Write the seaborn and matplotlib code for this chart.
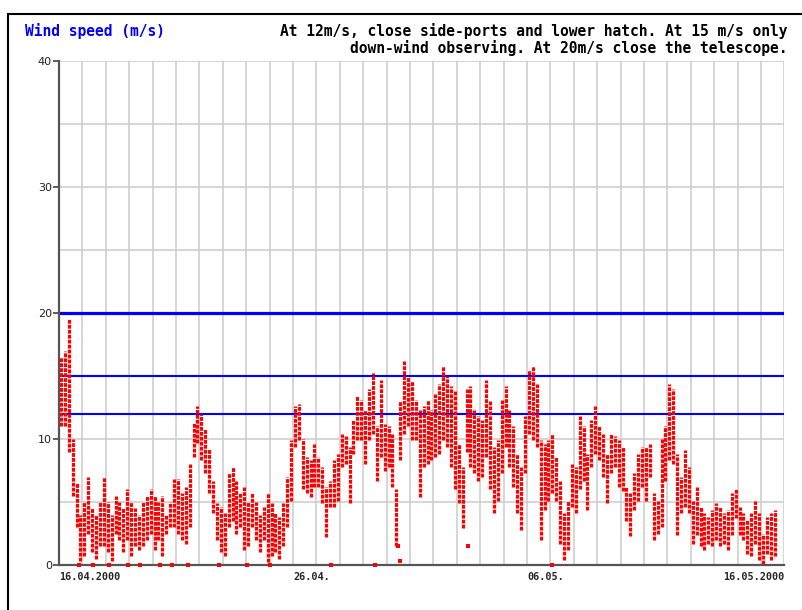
import numpy as np
import pandas as pd
import seaborn as sns
import matplotlib.pyplot as plt
import matplotlib.dates as mdates
from matplotlib.patches import Rectangle

# wind speed readings, 4-hour bins starting 16.04.2000 00:00 (low / high of each bin, m/s)
speed_lo = [
    11, 11, 9, 5.5, 3, 0.3,
    0.7, 2.5, 1, 0.5, 1.5, 1.5,
    1, 0.3, 2.5, 2, 1, 2,
    0.7, 1.5, 1.2, 1.5, 2, 2.5,
    1.2, 2, 0.7, 2.5, 3, 3,
    2.5, 2, 1.7, 3, 8.6, 9.7,
    8.3, 7.3, 5.7, 4.1, 2, 1,
    0.7, 3, 3.5, 2.5, 3, 1.2,
    1.5, 3, 2, 1, 2, 0.2,
    0.7, 1, 0.5, 1.5, 3, 5.1,
    9.4, 9.9, 6, 5.7, 5.4, 6.2,
    6.2, 4.9, 2.2, 4.6, 4.6, 5.1,
    7.8, 8, 4.9, 8.8, 9.9, 9.9,
    8, 9.9, 10.4, 6.7, 8.6, 7.5,
    7.8, 6.2, 1.5, 8.3, 10.4, 11,
    9.9, 9.9, 5.4, 7.8, 8, 8.3,
    8.6, 8.8, 9.9, 9.4, 7.8, 6,
    4.9, 2.9, 9, 7.8, 7.3, 6.7,
    7, 8.6, 6, 4.1, 5.1, 7.3,
    9.4, 7.8, 6.2, 4.1, 2.8, 7.3,
    10.4, 9.9, 9.4, 2, 4.4, 5.1,
    5.7, 5.1, 1.7, 0.4, 1.2, 4.6,
    4.1, 6, 6.7, 4.4, 7.8, 8.8,
    8.3, 7, 4.9, 7.3, 7.8, 6.2,
    5.9, 3.5, 2.3, 4.4, 5.1, 6.2,
    5.1, 7, 2, 2.5, 3, 6.7,
    8.3, 8, 2.4, 4.1, 4.6, 4.1,
    1.7, 2.4, 1.5, 1.2, 1.7, 1.5,
    2, 1.5, 1.7, 1.2, 2.4, 3.7,
    2.4, 2, 0.9, 0.7, 1.7, 0.4,
    0.1, 0.9, 0.4, 0.7,
]
speed_hi = [
    16.5, 17, 19.5, 10, 6.5, 4,
    5, 7, 4.5, 4, 5, 7,
    5, 4, 5.5, 5, 4.5, 6,
    5, 4.5, 4, 5, 5.5, 6,
    5.5, 5, 5.5, 4, 5, 6.8,
    6.8, 5.7, 6.2, 8, 11.3, 12.6,
    12, 10.8, 9.2, 6.7, 4.9, 4.6,
    4.1, 7.3, 7.8, 6.7, 5.7, 6.2,
    5, 5.7, 5, 4, 4.6, 5.7,
    4.9, 4.1, 3.8, 4.9, 7, 9.9,
    12.6, 12.8, 10, 8.6, 8.3, 9.6,
    8.6, 7.8, 6.2, 6.7, 8.3, 8.8,
    10.4, 10.2, 9.4, 11.5, 13.4, 13.1,
    12.3, 14, 15.2, 11, 14.7, 11.2,
    11, 10.4, 6, 13, 16.2, 14.9,
    14.6, 13.1, 12.3, 12.6, 13.1, 12.3,
    13.6, 14.4, 15.8, 15, 14.2, 13.9,
    9.6, 7.8, 14, 14.2, 12.3, 11.8,
    11.5, 14.7, 13, 9.4, 9.9, 13.1,
    14.2, 12.3, 11, 8.8, 7.8, 11.8,
    15.5, 15.8, 14.4, 9.9, 9.6, 9.9,
    10.4, 8.6, 6.7, 4.1, 5.1, 8,
    7.8, 11.8, 11, 8.8, 11.5, 12.6,
    11, 10.4, 8.8, 10.4, 10.2, 9.9,
    9.4, 6.2, 5.7, 7.3, 8.8, 9.4,
    9.4, 9.6, 5.7, 5.1, 10, 11,
    14.4, 14, 8.8, 7, 9.1, 7.8,
    5.1, 6.2, 4.6, 4.1, 3.8, 4.4,
    4.9, 4.6, 4.1, 4.4, 5.7, 6,
    4.6, 4.1, 3.6, 4.1, 5.1, 4.1,
    2.5, 3.8, 4.1, 4.4,
]

# isolated readings outside the main cloud
odd_times = ["2000-04-16 20:00", "2000-04-17 11:00", "2000-04-18 03:00", "2000-04-18 23:00",
             "2000-04-19 11:00", "2000-04-20 08:00", "2000-04-20 20:00", "2000-04-21 12:00",
             "2000-04-22 20:00", "2000-04-24 01:00", "2000-04-25 00:00", "2000-04-27 15:00",
             "2000-04-29 12:00", "2000-04-30 12:00", "2000-04-30 14:00", "2000-05-03 11:00",
             "2000-05-07 02:00"]
odd_speed = [0, 0, 0, 0, 0, 0, 0, 0, 0, 0, 0, 0, 0, 1.5, 0.3, 1.5, 0]

thresholds = [12, 15, 20]
threshold_widths = [1.5, 1.5, 2.3]

x_tick_dates = ["2000-04-16", "2000-04-26", "2000-05-06", "2000-05-17"]
x_tick_labels = ["16.04.2000", "26.04.", "06.05.", "16.05.2000"]

times = pd.date_range("2000-04-16 02:00", periods=len(speed_lo), freq="4h")
df = pd.DataFrame({
    "time": list(times) * 2,
    "speed": speed_lo + speed_hi,
    "bin": list(range(len(times))) * 2,
})
odd = pd.DataFrame({"time": pd.to_datetime(odd_times), "speed": odd_speed})

sns.set_style("white")
mono = ["DejaVu Sans Mono"]

fig = plt.figure(figsize=(8.02, 6.10), dpi=100)
ax = fig.add_axes([59 / 802, 45 / 610, 725.4 / 802, 504 / 610])

sns.lineplot(data=df, x="time", y="speed", units="bin", estimator=None,
             color="#ff0000", linewidth=2.3, linestyle=(0, (1.2, 0.35)), ax=ax,
             legend=False, zorder=3)
sns.scatterplot(data=odd, x="time", y="speed", color="#ff0000", marker="s",
                s=7, linewidth=0, ax=ax, zorder=4, clip_on=False)

for t, w in zip(thresholds, threshold_widths):
    ax.axhline(t, color="#0000ff", linewidth=w, zorder=2)

start = pd.Timestamp("2000-04-16")
end = pd.Timestamp("2000-05-17")
ax.set_xlim(start, end)
ax.set_ylim(0, 40)

ax.set_xticks(pd.to_datetime(x_tick_dates))
ax.set_xticklabels(x_tick_labels, family=mono, fontsize=7.3, fontweight="bold")
labs = ax.get_xticklabels()
for lab in labs[:-1]:
    lab.set_ha("left")
labs[-1].set_ha("right")
ax.xaxis.set_minor_locator(mdates.DayLocator())
ax.tick_params(axis="x", which="both", length=0, pad=5)
ax.xaxis.get_major_ticks()[-1].tick1line.set_markersize(4)
ax.xaxis.get_major_ticks()[-1].tick1line.set_markeredgewidth(1.2)
for t in ax.xaxis.get_major_ticks()[:-1]:
    t.tick1line.set_visible(False)

ax.set_yticks([0, 10, 20, 30, 40])
ax.set_yticks([5, 15, 25, 35], minor=True)
ax.tick_params(axis="y", which="major", length=4, width=1.2, color="#444444",
               labelsize=8, labelcolor="#222222", pad=1, left=True)
ax.tick_params(axis="y", which="minor", length=0)

ax.grid(True, which="both", color="#cccccc", linewidth=1.1, zorder=0)
ax.set_axisbelow(True)

for side in ["top", "right"]:
    ax.spines[side].set_visible(False)
for side in ["left", "bottom"]:
    ax.spines[side].set_color("#555555")
    ax.spines[side].set_linewidth(1.6)
    ax.spines[side].set_zorder(2.5)

ax.set_xlabel("")
ax.set_ylabel("")

fig.text(25 / 802, 1 - 31 / 610, "Wind speed (m/s)", color="#0000ff",
         family=mono, fontsize=10.5, fontweight="bold", ha="left", va="center")
fig.text(787 / 802, 1 - 23 / 610,
         "At 12m/s, close side-ports and lower hatch. At 15 m/s only\n"
         "down-wind observing. At 20m/s close the telescope.",
         color="black", family=mono, fontsize=10.5, fontweight="bold",
         ha="right", va="top", multialignment="right", linespacing=1.05)

fig.patches.append(Rectangle((8 / 802, -0.1), 1.2, 0.1 + (610 - 14) / 610,
                             transform=fig.transFigure, fill=False,
                             edgecolor="black", linewidth=1.5, figure=fig))

fig.savefig("out.png", dpi=100)
